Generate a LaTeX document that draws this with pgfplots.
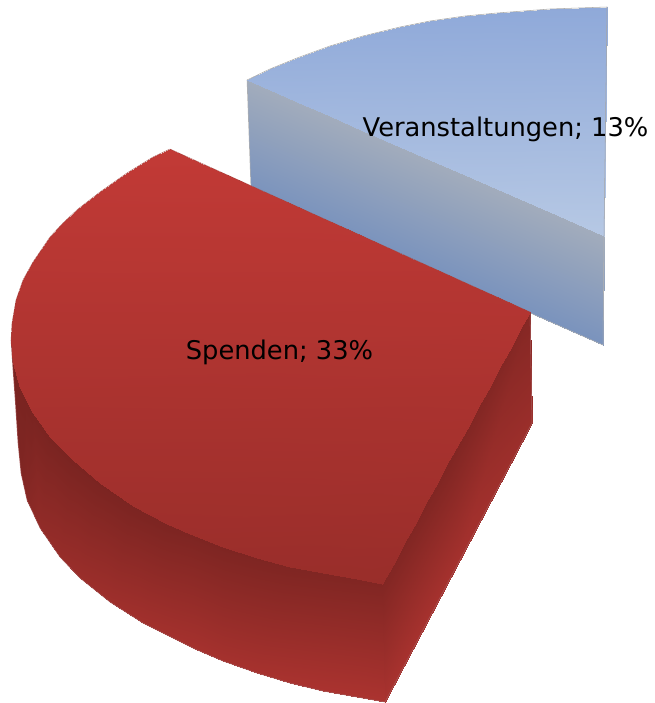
\documentclass[border=0pt]{standalone}
\usepackage{pgfplots}
\usepackage{fontspec}
\setmainfont{DejaVu Sans}
\pgfplotsset{compat=1.18}
\definecolor{rimline}{RGB}{168,70,66}
\pgfplotsset{
 colormap={redc}{rgb255(0)=(122,36,33) rgb255(1)=(194,58,54)},
 colormap={bluetop}{rgb255(0)=(143,169,217) rgb255(1)=(182,200,228)},
 colormap={blueside}{rgb255(0)=(122,147,189) rgb255(1)=(162,172,188)},
 facet/.style={surf,shader=interp,mesh/rows=2,point meta=explicit,draw=none},
}
\begin{document}
\begin{tikzpicture}
\begin{axis}[scale only axis,width=490.5pt,height=527.25pt,
 xmin=0,xmax=654,ymin=0,ymax=703,y dir=reverse,ticks=none,axis line style={draw=none},
 point meta min=0,point meta max=1,clip=false]
% blue side
\addplot[facet,colormap name=blueside] table[meta=c] {
x y c
247 80 1
604 236 1
251 190 0
603 345 0
};
\addplot[draw=gray!60,line width=.4pt] coordinates {(247,80)(251,190)};
\addplot[draw=gray!60,line width=.4pt] coordinates {(604,236)(603,345)(251,190)};
% blue top
\addplot[facet,colormap name=bluetop] table[meta=c] {
x y c
247 80 .32
270 69 .27
297 58 .22
330 46 .17
363 36 .13
400 27 .09
430 21 .06
465 16 .04
497 13 .03
550 9 .01
607 7 0
247 80 .32
270 90 .36
297 102 .41
330 116 .48
363 131 .54
400 147 .61
430 160 .67
465 175 .73
497 189 .79
550 212 .90
604 236 1
};
\addplot[draw=gray!70,line width=.4pt] coordinates {(247,80)(270,69)(297,58)(330,46)(363,36)(400,27)(430,21)(465,16)(497,13)(550,9)(607,7)(604,236)};
% red front wall
\addplot[facet,colormap name=redc] table[meta=c] {
x y c
11 340 0
12 352 0
13 363 0
16 376 0
20 388 0
26 400 0
33 413 0
50 437 0
73 460 0
100 483 .01
133 506 .02
167 524 .03
190 534 .05
223 547 .05
257 558 .06
290 567 .07
323 573 .08
357 579 .09
382 584 .1
11 340 0
13 370 0
15 397 0
18 443 .03
21 473 .08
27 500 .18
40 528 .33
60 557 .4
80 578 .45
110 602 .5
143 623 .55
177 640 .58
195 649 .6
223 661 .6
257 673 .62
290 683 .65
323 691 .67
357 697 .68
385 702 .68
};
% red right wall
\addplot[facet,colormap name=redc] table[meta=c] {
x y c
382 584 .1
450 460 .08
530 312 .15
385 702 .65
460 560 .6
532 423 .45
};
\addplot[draw=gray!70!red,line width=.4pt] coordinates {(530,312)(532,423)(385,702)(357,697)(323,691)(290,683)(257,673)(223,661)(195,649)(177,640)(143,623)(110,602)(80,578)(60,557)(40,528)(27,500)(21,473)(18,443)(15,397)(13,370)(11,340)};
% red top
\addplot[facet,colormap name=redc] table[meta=c] {
x y c
170 149 1
153 157 .99
127 173 .97
100 192 .94
78 209 .92
63 223 .90
50 237 .88
33 262 .85
23 280 .83
16 300 .80
12 323 .77
11 340 .75
13 363 .72
20 388 .69
33 413 .65
50 437 .62
73 460 .59
100 483 .56
133 506 .53
167 524 .51
190 534 .50
223 547 .48
257 558 .46
290 567 .45
323 573 .44
357 579 .44
382 584 .43
170 149 1
200 163 .98
230 176 .96
260 190 .95
290 203 .93
320 217 .91
350 230 .89
380 244 .88
410 258 .86
440 271 .84
470 285 .82
500 298 .80
530 312 .79
519.4 331.4 .76
508.9 350.9 .74
498.3 370.3 .71
487.7 389.7 .68
477.1 409.1 .66
466.6 428.6 .63
456 448 .61
445.4 467.4 .58
434.9 486.9 .56
424.3 506.3 .53
413.7 525.7 .51
403.1 545.1 .48
392.6 564.6 .45
382 584 .43
};
\addplot[draw=rimline,line width=.3pt] coordinates {(530,312)(170,149)(153,157)(127,173)(100,192)(78,209)(63,223)(50,237)(33,262)(23,280)(16,300)(12,323)(11,340)};
\node[font=\fontsize{19.3}{23}\selectfont,inner sep=0pt] at (axis cs:505.5,129) {Veranstaltungen; 13\%};
\node[font=\fontsize{19.3}{23}\selectfont,inner sep=0pt] at (axis cs:279.5,352) {Spenden; 33\%};
\end{axis}
\end{tikzpicture}
\end{document}
